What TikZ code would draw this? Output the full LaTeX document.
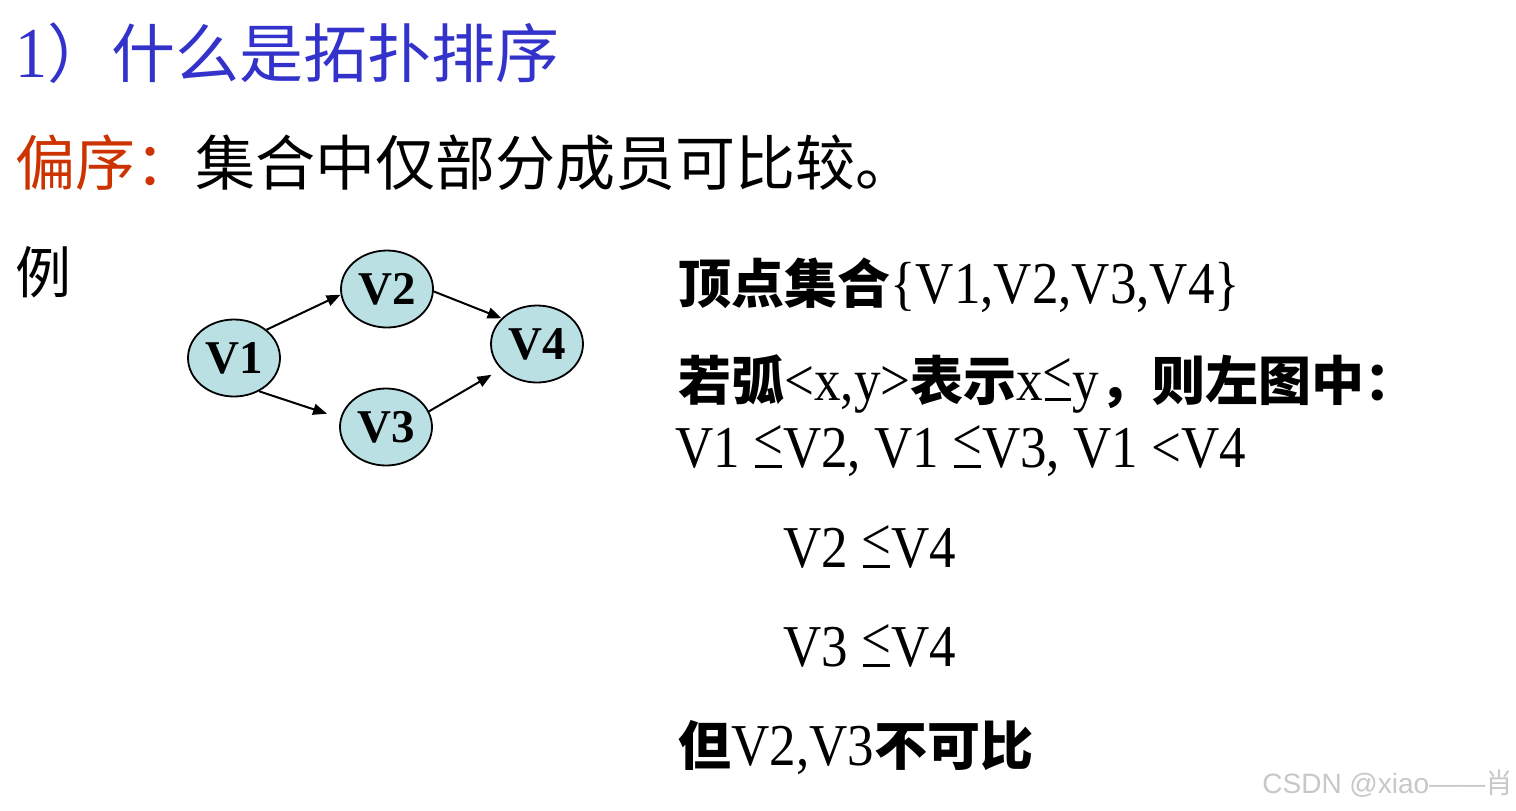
\documentclass[tikz,border=0pt]{standalone}
\usepackage{fontspec}
\usepackage{graphicx}
\setmainfont{Liberation Serif}
\newfontfamily\cjk{Noto Sans CJK SC}
\newfontfamily\wmfont{Liberation Sans}
\usetikzlibrary{arrows.meta,shapes.geometric}
\definecolor{titleblue}{RGB}{51,51,204}
\definecolor{partred}{RGB}{204,51,0}
\definecolor{vfill}{RGB}{186,224,227}
\definecolor{wmgray}{RGB}{200,200,200}
\newcommand\kai[1]{{\cjk\bfseries #1}}
\newcommand\lat[1]{\scalebox{1}[1.12]{#1}}
\newcommand\leh{\mbox{\rlap{\raisebox{0.12em}{<}}\hspace{0.03em}\rule[-0.02em]{0.5em}{0.05em}\hspace{0.03em}}}
\begin{document}
\begin{tikzpicture}[x=0.5pt,y=-0.5pt,
  vert/.style={ellipse, draw, line width=0.9pt, fill=vfill, minimum width=46pt, minimum height=38.5pt, inner sep=0pt, font=\fontsize{23.5}{24}\selectfont\bfseries},
  arc/.style={-{Triangle[length=7pt,width=5.5pt]}, line width=1pt},
  txt/.style={anchor=base west, inner sep=0pt},
  rt/.style={txt, font=\fontsize{26.5}{27}\selectfont}]
\useasboundingbox[fill=white] (0,0) rectangle (1516,810);

% title and definition
\node[txt, text=titleblue, font=\fontsize{32}{32}\selectfont] (title) at (15,77) {\lat{1}{\cjk ）什么是拓扑排序}};
\node[txt, font=\fontsize{30}{30}\selectfont\cjk] (def) at (15,185) {\textcolor{partred}{偏序：}集合中仅部分成员可比较。};
\node[txt, font=\fontsize{28}{28}\selectfont\cjk] (eg) at (15,293) {例};

% graph
\node[vert] (v1) at (234,358) {V1};
\node[vert] (v2) at (387,289) {V2};
\node[vert] (v3) at (386,427) {V3};
\node[vert] (v4) at (537,344) {V4};
\draw[arc] (v1.41) -- (v2.187);
\draw[arc, shorten >=7pt] (v1.307) -- (v3.169);
\draw[arc] (v2.357) -- (v4.144);
\draw[arc, shorten >=5.5pt] (v3.20) -- (v4.215);

% right text
\node[rt] (r1) at (678,303) {\kai{顶点集合}\lat{\{V1,V2,V3,V4\}}};
\node[rt] (r2) at (678,400) {\kai{若弧}\lat{<x,y>}\kai{表示}\lat{x\leh y}\kai{，则左图中：}};
\node[rt] (r3) at (675,467) {\lat{V1 \leh V2, V1 \leh V3, V1 <V4}};
\node[rt] (r4) at (783,567) {\lat{V2 \leh V4}};
\node[rt] (r5) at (783,666) {\lat{V3 \leh V4}};
\node[rt] (r6) at (678,765) {\kai{但}\lat{V2,V3}\kai{不可比}};

% watermark
\node[txt, text=wmgray, font=\fontsize{14}{14}\selectfont\wmfont] (wm) at (1262,793) {CSDN @xiao——{\cjk 肖}};
\end{tikzpicture}
\end{document}
